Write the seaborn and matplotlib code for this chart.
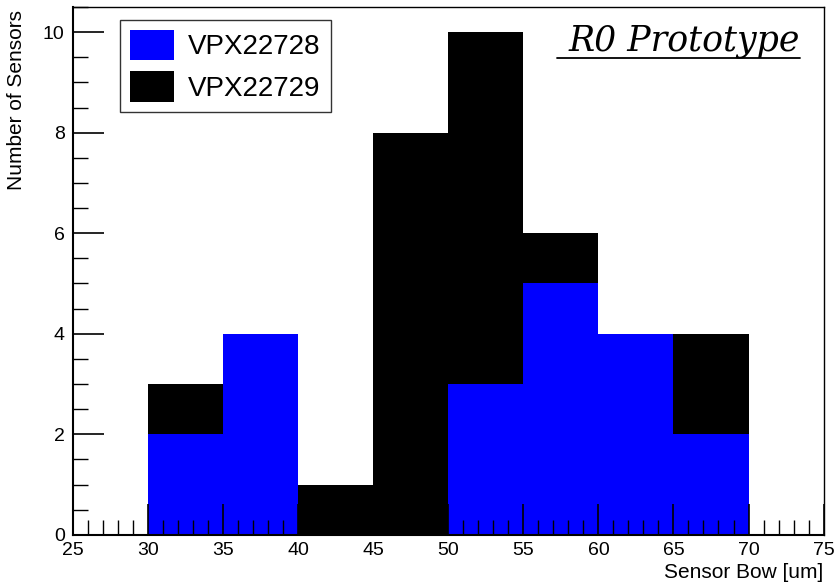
import matplotlib
matplotlib.use("Agg")
import matplotlib.pyplot as plt
import seaborn as sns
import pandas as pd
from matplotlib.patches import Patch
from matplotlib.ticker import MultipleLocator
from matplotlib.lines import Line2D

# Data
bin_edges = [25, 30, 35, 40, 45, 50, 55, 60, 65, 70, 75]
bin_centers = [27.5, 32.5, 37.5, 42.5, 47.5, 52.5, 57.5, 62.5, 67.5, 72.5]
vpx22728 = [0, 2, 4, 0, 0, 3, 5, 4, 2, 0]
vpx22729 = [0, 1, 0, 1, 8, 7, 1, 0, 2, 0]
series_names = ["VPX22728", "VPX22729"]
series_colors = ["#0000ff", "#000000"]

sns.set_style("white")
plt.rcParams['font.family'] = ['Liberation Sans', 'DejaVu Sans']
plt.rcParams['text.color'] = 'black'
plt.rcParams['axes.labelcolor'] = 'black'

df = pd.DataFrame({
    "bow": bin_centers * 2,
    "count": vpx22728 + vpx22729,
    "sensor": [series_names[0]] * len(bin_centers) + [series_names[1]] * len(bin_centers),
})

fig = plt.figure(figsize=(8.34, 5.82), dpi=100)
ax = fig.add_axes([0.0875, 0.081, 0.900, 0.907])

sns.histplot(data=df, x="bow", weights="count", hue="sensor",
             hue_order=[series_names[1], series_names[0]],
             palette={series_names[0]: series_colors[0], series_names[1]: series_colors[1]},
             bins=bin_edges, multiple="stack", element="bars",
             alpha=1, linewidth=0, legend=False, ax=ax)

ax.set_xlim(25, 75)
ax.set_ylim(0, 10.5)
ax.xaxis.set_major_locator(MultipleLocator(5))
ax.xaxis.set_minor_locator(MultipleLocator(1))
ax.yaxis.set_major_locator(MultipleLocator(2))
ax.yaxis.set_minor_locator(MultipleLocator(0.5))
ax.tick_params(axis='both', which='both', bottom=True, left=True, top=False, right=False)
ax.tick_params(axis='both', which='major', direction='in', length=22, width=1.2,
               labelsize=14, colors='black')
ax.tick_params(axis='both', which='minor', direction='in', length=11, width=1.0, colors='black')
ax.tick_params(axis='x', which='major', pad=5)
ax.tick_params(axis='y', which='major', pad=6)
for s in ax.spines.values():
    s.set_color('black')
    s.set_linewidth(1.0)
    s.set_zorder(5)
ax.spines['left'].set_linewidth(1.5)
ax.spines['bottom'].set_linewidth(1.5)
ax.xaxis.set_zorder(5)
ax.yaxis.set_zorder(5)

ax.set_xlabel("Sensor Bow [um]", fontsize=15, ha='right', x=1.0, labelpad=3, color='black')
ax.set_ylabel("Number of Sensors", fontsize=15, ha='right', y=0.995, labelpad=12, color='black')

handles = [Patch(facecolor=series_colors[0], edgecolor='none'),
           Patch(facecolor=series_colors[1], edgecolor='none')]
leg = ax.legend(handles, series_names, loc='upper left',
                bbox_to_anchor=(0.063, 0.975), fontsize=20, frameon=True,
                fancybox=False, edgecolor='black', handlelength=1.6,
                handleheight=1.3, borderpad=0.35, labelspacing=0.4,
                handletextpad=0.5, borderaxespad=0)
leg.get_frame().set_linewidth(1.0)
for txt in leg.get_texts():
    txt.set_color('black')
leg.set_zorder(10)

ax.text(0.968, 0.936, "R0 Prototype", transform=ax.transAxes, ha='right',
        va='center', fontsize=25, style='italic', family='DejaVu Serif', color='black')
ax.add_line(Line2D([0.645, 0.968], [0.903, 0.903], transform=ax.transAxes,
                   color='black', linewidth=1.3))

fig.savefig("out.png", dpi=100)
